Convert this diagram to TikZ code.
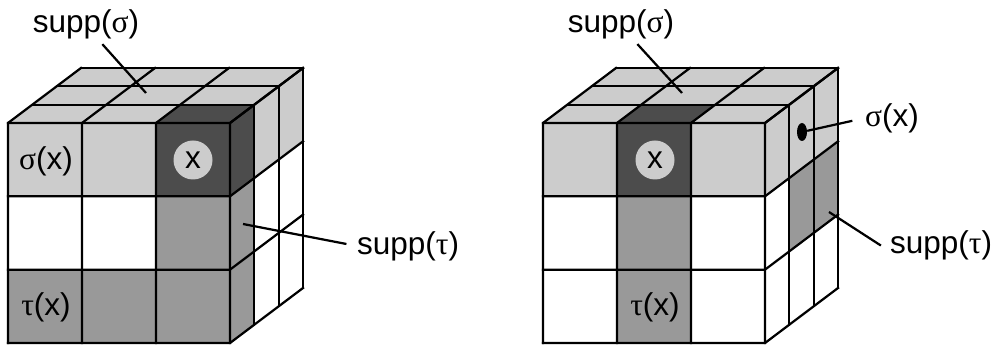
\documentclass[tikz,border=0pt]{standalone}
\usepackage{fontspec}
\setmainfont{Liberation Sans}
\newfontfamily\greekfont{Liberation Serif}
\usetikzlibrary{shapes.geometric}
\definecolor{lightg}{gray}{0.80}
\definecolor{midg}{gray}{0.60}
\definecolor{darkg}{gray}{0.30}
\tikzset{
  lbl/.style={font=\fontsize{26.9}{30}\selectfont,inner sep=0pt},
  leader/.style={line width=1.9pt},
  edge/.style={line width=1.9pt,line cap=rect},
  cube/.style={x={(2.22cm,0cm)},y={(0cm,2.2cm)},z={(-0.73cm,-0.55cm)}}
}
\newcommand{\frontcell}[3]{\fill[#3] (#1,#2,0) -- ++(1,0,0) -- ++(0,1,0) -- ++(-1,0,0) -- cycle;}
\newcommand{\sidecell}[3]{\fill[#3] (3,#2,-#1) -- ++(0,0,-1) -- ++(0,1,0) -- ++(0,0,1) -- cycle;}
\newcommand{\topcell}[3]{\fill[#3] (#1,3,-#2) -- ++(1,0,0) -- ++(0,0,-1) -- ++(-1,0,0) -- cycle;}
\newcommand{\cubegrid}{
  \foreach \i in {0,...,3} {\draw[edge] (\i,0,0) -- (\i,3,0) -- (\i,3,-3);}
  \foreach \j in {0,...,3} {\draw[edge] (0,\j,0) -- (3,\j,0) -- (3,\j,-3);}
  \foreach \k in {1,2,3} {\draw[edge] (0,3,-\k) -- (3,3,-\k) -- (3,0,-\k);}
}
\newcommand{\sg}{{\greekfont σ}}
\newcommand{\ta}{{\greekfont τ}}
\begin{document}
\begin{tikzpicture}[x=0.03cm,y=-0.03cm]
\useasboundingbox (0,0) rectangle (994,347);

% left cube
\begin{scope}[shift={(8,343)},cube]
\foreach \i in {0,1,2} {\foreach \k in {0,1,2} {\topcell{\i}{\k}{lightg}}}
\foreach \i in {0,1} {\frontcell{\i}{2}{lightg}}
\foreach \i in {0,1,2} {\frontcell{\i}{0}{midg}}
\frontcell{2}{1}{midg}
\frontcell{2}{2}{darkg}
\topcell{2}{0}{darkg}
\sidecell{0}{2}{darkg}
\sidecell{0}{1}{midg}
\sidecell{0}{0}{midg}
\sidecell{1}{2}{lightg}
\sidecell{2}{2}{lightg}
\cubegrid
\end{scope}

% right cube
\begin{scope}[shift={(543,343)},cube]
\foreach \i in {0,1,2} {\foreach \k in {0,1,2} {\topcell{\i}{\k}{lightg}}}
\foreach \i in {0,2} {\frontcell{\i}{2}{lightg}}
\frontcell{1}{2}{darkg}
\frontcell{1}{1}{midg}
\frontcell{1}{0}{midg}
\topcell{1}{0}{darkg}
\foreach \k in {0,1,2} {\sidecell{\k}{2}{lightg}}
\sidecell{1}{1}{midg}
\sidecell{2}{1}{midg}
\cubegrid
\end{scope}

\node[lbl] (sigmaxl) at (46,161) {\sg(x)};
\node[lbl] (taxl) at (46,307) {\ta(x)};
\node[lbl,circle,fill=lightg,minimum size=1.17cm] (xl) at (193,160) {x};
\node[lbl] (suppsl) at (86,24) {supp(\sg)};
\node[lbl] (supptl) at (408,246) {supp(\ta)};
\coordinate (endsl) at (146,93);
\coordinate (endtl) at (243,224);
\draw[leader,shorten <=6pt] (suppsl.-52) -- (endsl);
\draw[leader,shorten <=9pt] (supptl.west) -- (endtl);

\node[lbl,circle,fill=lightg,minimum size=1.17cm] (xr) at (655,160) {x};
\node[lbl] (taxr) at (655,307) {\ta(x)};
\node[lbl] (suppsr) at (621,24) {supp(\sg)};
\node[lbl] (supptr) at (941,245) {supp(\ta)};
\node[lbl] (sigmaxr) at (892,118) {\sg(x)};
\node[ellipse,fill=black,inner sep=0pt,minimum width=0.3cm,minimum height=0.54cm] (dotr) at (802,132) {};
\coordinate (endsr) at (682,93);
\coordinate (endtr) at (829,212);
\draw[leader,shorten <=6pt] (suppsr.-52) -- (endsr);
\draw[leader,shorten <=9pt] (supptr.187) -- (endtr);
\draw[leader,shorten <=11pt] (sigmaxr.west) -- (dotr);
\end{tikzpicture}
\end{document}
